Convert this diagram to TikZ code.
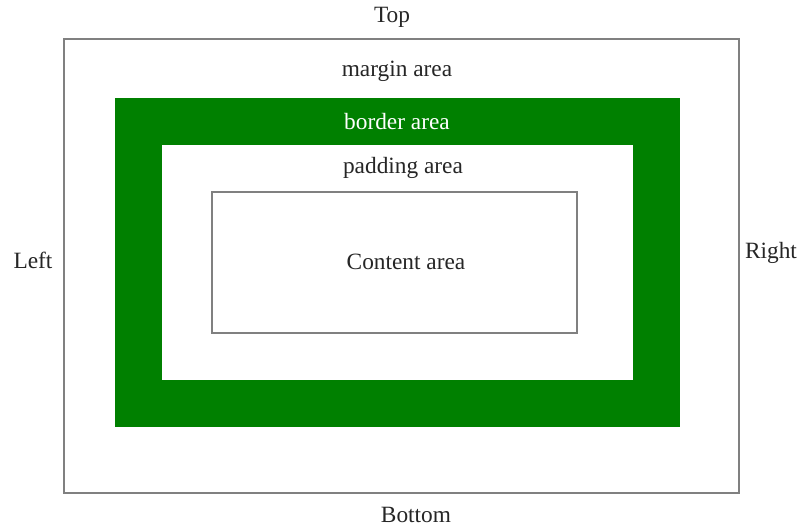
\documentclass[tikz,border=0pt]{standalone}
\usepackage{fontspec}
\setmainfont{Liberation Serif}
\definecolor{htmlgreen}{HTML}{008000}
\definecolor{edgegray}{HTML}{808080}
\begin{document}
\begin{tikzpicture}[x=0.75pt,y=-0.75pt,
  boxarea/.style={rectangle,inner sep=0pt,outer sep=0pt},
  lbl/.style={font=\fontsize{17.5pt}{20pt}\selectfont,text=black!85,inner sep=0pt}]
\useasboundingbox (0,0) rectangle (800,527);
\fill[white] (0,0) rectangle (800,527);
\node[boxarea,draw=edgegray,line width=1pt,minimum width=506.25pt,minimum height=340.5pt] (margin) at (401.5,266) {};
\node[boxarea,fill=htmlgreen,minimum width=423.75pt,minimum height=246.75pt] (border) at (397.5,262.5) {};
\node[boxarea,fill=white,minimum width=353.25pt,minimum height=176.25pt] (padding) at (397.5,262.5) {};
\node[boxarea,draw=edgegray,line width=1pt,minimum width=273.75pt,minimum height=105.75pt] (content) at (394.5,262.5) {};
\node[lbl] (top) at (392,17) {Top};
\node[lbl] (marginlbl) at (397,71) {margin area};
\node[lbl,text=white] (borderlbl) at (397,122) {border area};
\node[lbl] (paddinglbl) at (403,168) {padding area};
\node[lbl] (contentlbl) at (406,262) {Content area};
\node[lbl] (left) at (33,260) {Left};
\node[lbl] (right) at (771,253) {Right};
\node[lbl] (bottom) at (416,515) {Bottom};
\end{tikzpicture}
\end{document}
